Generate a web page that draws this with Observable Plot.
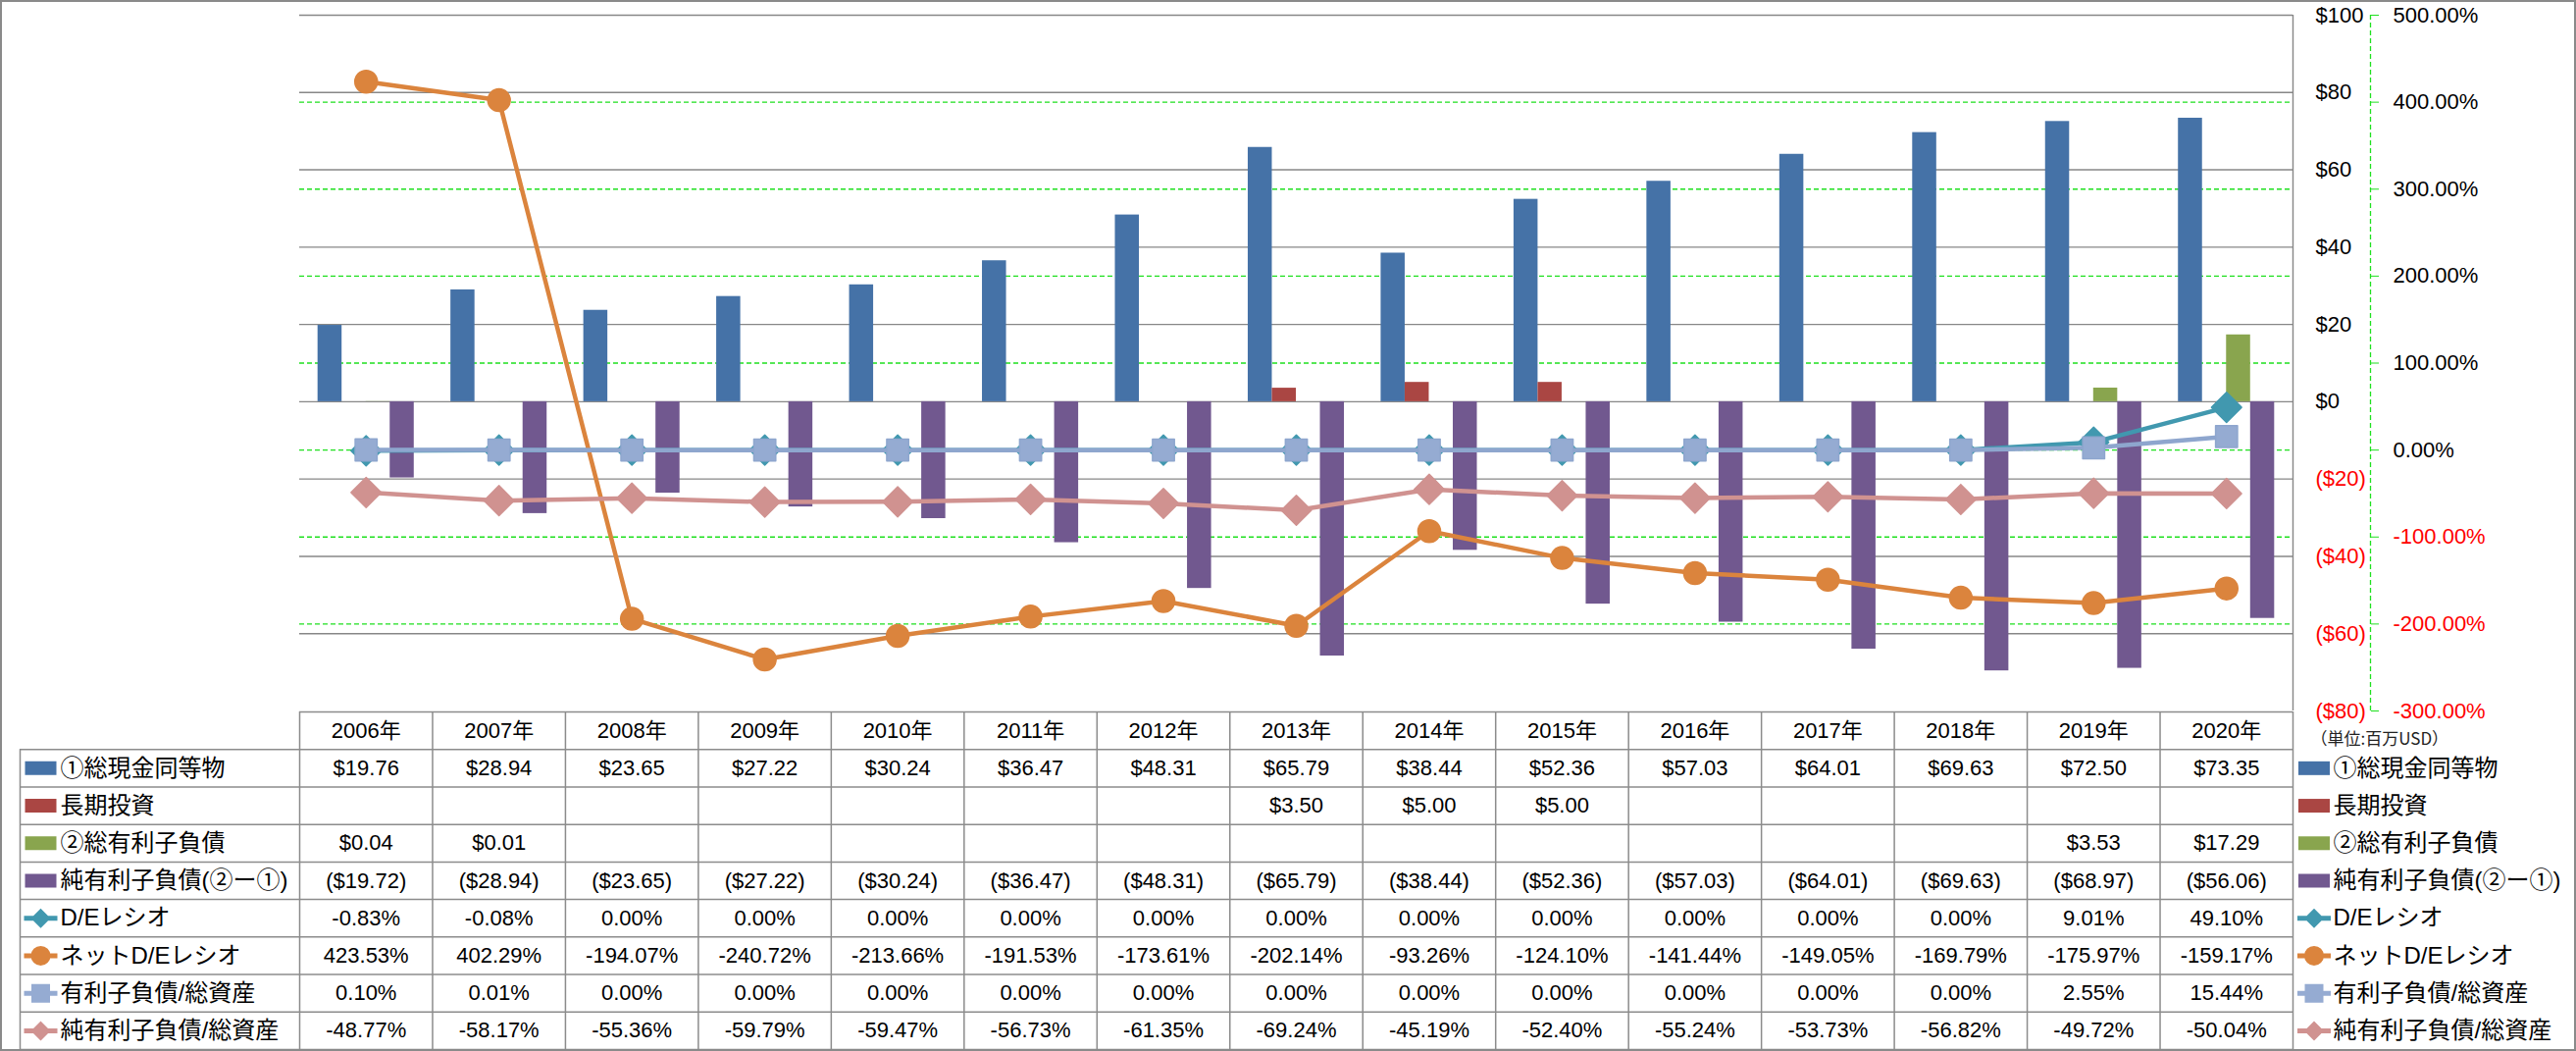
<!DOCTYPE html>
<html>
<head>
<meta charset="utf-8">
<script src="https://cdn.jsdelivr.net/npm/d3@7"></script>
<script src="https://cdn.jsdelivr.net/npm/@observablehq/plot@0.6"></script>
<style>
  body { margin: 0; background: #fff; }
  #wrap { position: relative; width: 2626px; height: 1071px; overflow: hidden; background: #fff; }
  #chart, #table { position: absolute; left: 0; }
  #chart { top: 0; }
  #table { top: 724px; }
  #wrap svg { overflow: visible; }
  #border { position: absolute; left: 0; top: 0; width: 2626px; height: 1071px; box-sizing: border-box; border: 2px solid #8a8a8a; pointer-events: none; }
</style>
</head>
<body>
<div id="wrap"><div id="chart"></div><div id="table"></div><div id="border"></div></div>
<script>
// ---------------- data ----------------
const years = [2006, 2007, 2008, 2009, 2010, 2011, 2012, 2013, 2014, 2015, 2016, 2017, 2018, 2019, 2020];
const cash = [19.76, 28.94, 23.65, 27.22, 30.24, 36.47, 48.31, 65.79, 38.44, 52.36, 57.03, 64.01, 69.63, 72.50, 73.35];
const longTermInvest = [null, null, null, null, null, null, null, 3.50, 5.00, 5.00, null, null, null, null, null];
const totalDebt = [0.04, 0.01, null, null, null, null, null, null, null, null, null, null, null, 3.53, 17.29];
const netDebt = [-19.72, -28.94, -23.65, -27.22, -30.24, -36.47, -48.31, -65.79, -38.44, -52.36, -57.03, -64.01, -69.63, -68.97, -56.06];
const deRatio = [-0.83, -0.08, 0, 0, 0, 0, 0, 0, 0, 0, 0, 0, 0, 9.01, 49.10];
const netDeRatio = [423.53, 402.29, -194.07, -240.72, -213.66, -191.53, -173.61, -202.14, -93.26, -124.10, -141.44, -149.05, -169.79, -175.97, -159.17];
const debtToAssets = [0.10, 0.01, 0, 0, 0, 0, 0, 0, 0, 0, 0, 0, 0, 2.55, 15.44];
const netDebtToAssets = [-48.77, -58.17, -55.36, -59.79, -59.47, -56.73, -61.35, -69.24, -45.19, -52.40, -55.24, -53.73, -56.82, -49.72, -50.04];
const usdTicks = [-80, -60, -40, -20, 0, 20, 40, 60, 80, 100];
const pctTicks = [-300, -200, -100, 0, 100, 200, 300, 400, 500];
const unitNote = "（単位:百万USD）";

// ---------------- config ----------------
const FONT = '"Liberation Sans", Arial, "Noto Sans CJK JP", sans-serif';
const GRID = "#878787", LIME = "#1fe01f", TABLE_LINE = "#8c8c8c";
const usdDomain = [usdTicks[0], usdTicks[usdTicks.length - 1]];
const pctDomain = [pctTicks[0], pctTicks[pctTicks.length - 1]];
const k = (usdDomain[1] - usdDomain[0]) / (pctDomain[1] - pctDomain[0]);
const toY = p => usdDomain[0] + (p - pctDomain[0]) * k;      // percent -> primary scale
const fromY = v => pctDomain[0] + (v - usdDomain[0]) / k;    // primary scale -> percent

const fmtUsdAxis = v => v < 0 ? `($${-v})` : `$${v}`;
const fmtUsd = v => v == null ? "" : v < 0 ? `($${(-v).toFixed(2)})` : `$${v.toFixed(2)}`;
const fmtPct = v => v == null ? "" : `${(Math.abs(v) < 1e-9 ? 0 : v).toFixed(2)}%`;

const xMin = years[0] - 0.5, xMax = years[years.length - 1] + 0.5;
const groupWidth = 0.724, slotWidth = groupWidth / 4;

const barSeries = [
  {name: "①総現金同等物", values: cash, color: "#4572A7"},
  {name: "長期投資", values: longTermInvest, color: "#AA4643"},
  {name: "②総有利子負債", values: totalDebt, color: "#89A54E"},
  {name: "純有利子負債(②ー①)", values: netDebt, color: "#71588F"}
];
const lineSeries = [
  {name: "D/Eレシオ", values: deRatio, color: "#4198AF", symbol: "diamond2", r: 13.8, marker: "diamond"},
  {name: "ネットD/Eレシオ", values: netDeRatio, color: "#DB843D", symbol: "circle", r: 11.5, marker: "circle"},
  {name: "有利子負債/総資産", values: debtToAssets, color: "#8EA6CE", fill: "#95ABD2", symbol: "square", r: 12.6, marker: "square"},
  {name: "純有利子負債/総資産", values: netDebtToAssets, color: "#D09290", symbol: "diamond2", r: 13.8, marker: "diamond"}
];

// ---------------- chart ----------------
const barMarks = barSeries.map((s, j) => Plot.rect(
  years.map((yr, i) => ({yr, v: s.values[i]})).filter(d => d.v != null),
  {
    x1: d => d.yr - groupWidth / 2 + j * slotWidth,
    x2: d => d.yr - groupWidth / 2 + (j + 1) * slotWidth,
    y1: 0, y2: "v", fill: s.color
  }
));

const lineMarks = lineSeries.flatMap(s => {
  const data = years.map((yr, i) => ({yr, v: toY(s.values[i])}));
  return [
    Plot.line(data, {x: "yr", y: "v", stroke: s.color, strokeWidth: 4.5, strokeLinejoin: "round"}),
    Plot.dot(data, {x: "yr", y: "v", symbol: s.symbol, r: s.r, fill: s.fill || s.color,
      stroke: s.color, strokeWidth: 1.5, strokeLinejoin: "round"})
  ];
});

const chart = Plot.plot({
  width: 2626, height: 730,
  marginTop: 15, marginBottom: 6, marginLeft: 305, marginRight: 289,
  x: {type: "linear", domain: [xMin, xMax], axis: null},
  y: {type: "linear", domain: usdDomain, label: null},
  style: {fontFamily: FONT, background: "transparent", overflow: "visible"},
  marks: [
    Plot.ruleY(usdTicks.filter(d => d > usdDomain[0]), {stroke: GRID, strokeWidth: 1.4}),
    Plot.ruleY(pctTicks.filter(d => d > pctDomain[0] && d < pctDomain[1]).map(toY),
      {stroke: LIME, strokeWidth: 1.3, strokeDasharray: "5,3"}),
    Plot.ruleX([xMax], {stroke: GRID, strokeWidth: 1.4}),
    Plot.ruleX([xMax], {dx: 79, stroke: LIME, strokeWidth: 1.3, strokeDasharray: "5,3"}),
    ...barMarks,
    ...lineMarks,
    Plot.axisY(usdTicks.filter(d => d >= 0), {anchor: "right", label: null, tickSize: 0, tickPadding: 23,
      tickFormat: fmtUsdAxis, textAnchor: "start", fill: "#000", fontSize: 22}),
    Plot.axisY(usdTicks.filter(d => d < 0), {anchor: "right", label: null, tickSize: 0, tickPadding: 23,
      tickFormat: fmtUsdAxis, textAnchor: "start", fill: "#ff0000", fontSize: 22}),
    Plot.axisY(pctTicks.filter(d => d >= 0).map(toY), {anchor: "right", label: null, dx: 79, tickSize: 8, tickPadding: 15,
      tickFormat: v => fmtPct(Math.round(fromY(v) * 100) / 100), textAnchor: "start", stroke: LIME, fill: "#000", fontSize: 22}),
    Plot.axisY(pctTicks.filter(d => d < 0).map(toY), {anchor: "right", label: null, dx: 79, tickSize: 8, tickPadding: 15,
      tickFormat: v => fmtPct(Math.round(fromY(v) * 100) / 100), textAnchor: "start", stroke: LIME, fill: "#ff0000", fontSize: 22})
  ]
});
document.getElementById("chart").append(chart);

// ---------------- data table ----------------
const rows = [
  ...barSeries.map(s => ({...s, kind: "bar", fmt: fmtUsd})),
  ...lineSeries.map(s => ({...s, kind: "line", fmt: fmtPct}))
];
const cells = [];
years.forEach((yr, i) => cells.push({yr, row: 0, t: `${yr}年`}));
rows.forEach((r, ri) => years.forEach((yr, i) => {
  const v = r.values[i];
  if (v != null) cells.push({yr, row: ri + 1, t: r.fmt(v)});
}));

function swatch(r) {
  if (r.kind === "bar") return {draw(ctx) { ctx.rect(-16, -7, 32, 14); }};
  return {draw(ctx) {
    ctx.rect(-17, -2.5, 34, 5);
    if (r.marker === "circle") { ctx.moveTo(10, 0); ctx.arc(0, 0, 10, 0, 2 * Math.PI); }
    else if (r.marker === "square") { ctx.moveTo(-9.5, -9.5); ctx.lineTo(9.5, -9.5); ctx.lineTo(9.5, 9.5); ctx.lineTo(-9.5, 9.5); ctx.closePath(); }
    else { ctx.moveTo(0, -10); ctx.lineTo(10, 0); ctx.lineTo(0, 10); ctx.lineTo(-10, 0); ctx.closePath(); }
  }};
}
const legendMarks = rows.flatMap((r, ri) => [
  Plot.dot([ri + 1], {frameAnchor: "left", y: d => d + 0.5, dx: -264, symbol: swatch(r), fill: r.fill || r.color, stroke: "none"}),
  Plot.dot([ri + 1], {frameAnchor: "right", y: d => d + 0.5, dx: 21.5, symbol: swatch(r), fill: r.fill || r.color, stroke: "none"})
]);

const boundaries = years.map(y => y - 0.5).concat([xMax]);
const table = Plot.plot({
  width: 2626, height: 347,
  marginTop: 1, marginBottom: 2, marginLeft: 305, marginRight: 289,
  x: {type: "linear", domain: [xMin, xMax], axis: null},
  y: {type: "linear", domain: [0, rows.length + 1], reverse: true, axis: null},
  style: {fontFamily: FONT, background: "transparent", overflow: "visible"},
  marks: [
    Plot.ruleY([0], {x1: xMin, x2: xMax, stroke: TABLE_LINE, strokeWidth: 1.5}),
    Plot.ruleY(d3.range(1, rows.length + 2), {x1: xMin, x2: xMax, insetLeft: -285, stroke: TABLE_LINE, strokeWidth: 1.5}),
    Plot.ruleX(boundaries, {y1: 0, y2: rows.length + 1, stroke: TABLE_LINE, strokeWidth: 1.5}),
    Plot.ruleX([xMin], {y1: 1, y2: rows.length + 1, dx: -285, stroke: TABLE_LINE, strokeWidth: 1.5}),
    Plot.text(cells, {x: "yr", y: d => d.row + 0.5, text: "t", fontSize: 22, fill: "#000"}),
    Plot.text(rows, {frameAnchor: "left", y: (d, i) => i + 1.5, text: "name", dx: -244, textAnchor: "start", fontSize: 24, fill: "#000"}),
    Plot.text(rows, {frameAnchor: "right", y: (d, i) => i + 1.5, text: "name", dx: 41, textAnchor: "start", fontSize: 24, fill: "#000"}),
    Plot.text([unitNote], {frameAnchor: "right", y: () => 0.5, text: d => d, dx: 18, dy: 9, textAnchor: "start", fontSize: 17, fill: "#222",
      fontFamily: '"Noto Sans CJK JP", sans-serif'}),
    ...legendMarks
  ]
});
document.getElementById("table").append(table);
</script>
</body>
</html>
